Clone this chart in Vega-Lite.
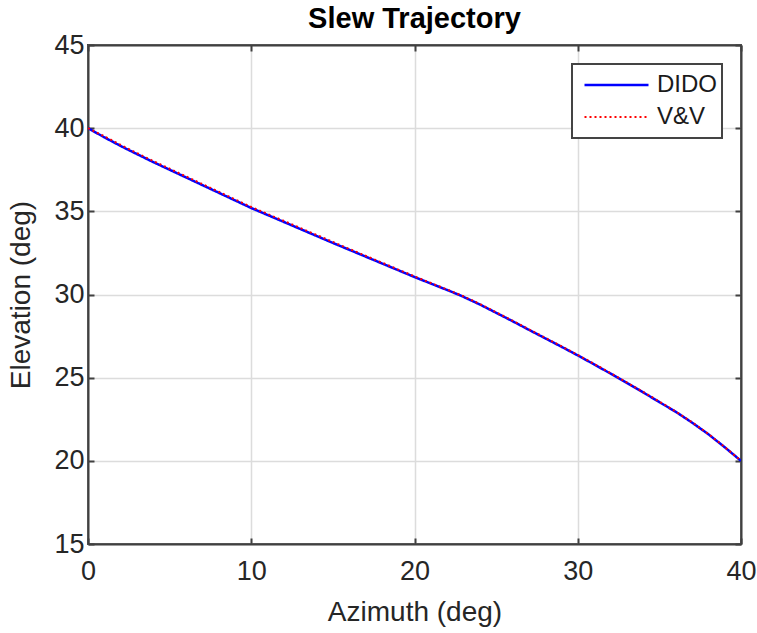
{
  "$schema": "https://vega.github.io/schema/vega-lite/v6.json",
  "width": 653,
  "height": 499,
  "autosize": {"type": "none"},
  "padding": {"left": 88, "top": 45, "right": 16, "bottom": 89},
  "background": "white",
  "title": {
    "text": "Slew Trajectory",
    "font": "Liberation Sans",
    "fontSize": 29,
    "fontWeight": "bold",
    "color": "black",
    "offset": -3
  },
  "data": {
    "values": [
      {"az": 0, "el": 40.0, "series": "DIDO"},
      {"az": 1, "el": 39.45, "series": "DIDO"},
      {"az": 2, "el": 38.93, "series": "DIDO"},
      {"az": 3, "el": 38.44, "series": "DIDO"},
      {"az": 4, "el": 37.96, "series": "DIDO"},
      {"az": 5, "el": 37.5, "series": "DIDO"},
      {"az": 6, "el": 37.04, "series": "DIDO"},
      {"az": 7, "el": 36.58, "series": "DIDO"},
      {"az": 8, "el": 36.12, "series": "DIDO"},
      {"az": 9, "el": 35.66, "series": "DIDO"},
      {"az": 10, "el": 35.2, "series": "DIDO"},
      {"az": 11, "el": 34.78, "series": "DIDO"},
      {"az": 12, "el": 34.36, "series": "DIDO"},
      {"az": 13, "el": 33.94, "series": "DIDO"},
      {"az": 14, "el": 33.52, "series": "DIDO"},
      {"az": 15, "el": 33.1, "series": "DIDO"},
      {"az": 16, "el": 32.69, "series": "DIDO"},
      {"az": 17, "el": 32.28, "series": "DIDO"},
      {"az": 18, "el": 31.87, "series": "DIDO"},
      {"az": 19, "el": 31.46, "series": "DIDO"},
      {"az": 20, "el": 31.05, "series": "DIDO"},
      {"az": 21, "el": 30.66, "series": "DIDO"},
      {"az": 22, "el": 30.27, "series": "DIDO"},
      {"az": 22.8, "el": 29.95, "series": "DIDO"},
      {"az": 24, "el": 29.4, "series": "DIDO"},
      {"az": 25, "el": 28.9, "series": "DIDO"},
      {"az": 26, "el": 28.4, "series": "DIDO"},
      {"az": 27, "el": 27.88, "series": "DIDO"},
      {"az": 28, "el": 27.37, "series": "DIDO"},
      {"az": 29, "el": 26.86, "series": "DIDO"},
      {"az": 30, "el": 26.34, "series": "DIDO"},
      {"az": 31, "el": 25.8, "series": "DIDO"},
      {"az": 32, "el": 25.25, "series": "DIDO"},
      {"az": 33, "el": 24.69, "series": "DIDO"},
      {"az": 34, "el": 24.12, "series": "DIDO"},
      {"az": 35, "el": 23.53, "series": "DIDO"},
      {"az": 36, "el": 22.95, "series": "DIDO"},
      {"az": 37, "el": 22.3, "series": "DIDO"},
      {"az": 38, "el": 21.6, "series": "DIDO"},
      {"az": 39, "el": 20.82, "series": "DIDO"},
      {"az": 40, "el": 20.0, "series": "DIDO"},
      {"az": 0, "el": 40.0, "series": "V&V"},
      {"az": 1, "el": 39.51, "series": "V&V"},
      {"az": 2, "el": 38.99, "series": "V&V"},
      {"az": 3, "el": 38.5, "series": "V&V"},
      {"az": 4, "el": 38.02, "series": "V&V"},
      {"az": 5, "el": 37.56, "series": "V&V"},
      {"az": 6, "el": 37.1, "series": "V&V"},
      {"az": 7, "el": 36.64, "series": "V&V"},
      {"az": 8, "el": 36.18, "series": "V&V"},
      {"az": 9, "el": 35.72, "series": "V&V"},
      {"az": 10, "el": 35.26, "series": "V&V"},
      {"az": 11, "el": 34.84, "series": "V&V"},
      {"az": 12, "el": 34.42, "series": "V&V"},
      {"az": 13, "el": 34.0, "series": "V&V"},
      {"az": 14, "el": 33.58, "series": "V&V"},
      {"az": 15, "el": 33.16, "series": "V&V"},
      {"az": 16, "el": 32.74, "series": "V&V"},
      {"az": 17, "el": 32.33, "series": "V&V"},
      {"az": 18, "el": 31.92, "series": "V&V"},
      {"az": 19, "el": 31.5, "series": "V&V"},
      {"az": 20, "el": 31.09, "series": "V&V"},
      {"az": 21, "el": 30.69, "series": "V&V"},
      {"az": 22, "el": 30.3, "series": "V&V"},
      {"az": 22.8, "el": 29.98, "series": "V&V"},
      {"az": 24, "el": 29.43, "series": "V&V"},
      {"az": 25, "el": 28.93, "series": "V&V"},
      {"az": 26, "el": 28.43, "series": "V&V"},
      {"az": 27, "el": 27.91, "series": "V&V"},
      {"az": 28, "el": 27.4, "series": "V&V"},
      {"az": 29, "el": 26.89, "series": "V&V"},
      {"az": 30, "el": 26.37, "series": "V&V"},
      {"az": 31, "el": 25.83, "series": "V&V"},
      {"az": 32, "el": 25.28, "series": "V&V"},
      {"az": 33, "el": 24.72, "series": "V&V"},
      {"az": 34, "el": 24.15, "series": "V&V"},
      {"az": 35, "el": 23.56, "series": "V&V"},
      {"az": 36, "el": 22.97, "series": "V&V"},
      {"az": 37, "el": 22.32, "series": "V&V"},
      {"az": 38, "el": 21.62, "series": "V&V"},
      {"az": 39, "el": 20.83, "series": "V&V"},
      {"az": 40, "el": 20.0, "series": "V&V"}
    ]
  },
  "layer": [
    {
      "mark": {"type": "line", "clip": true},
      "encoding": {
        "x": {
          "field": "az",
          "type": "quantitative",
          "scale": {"domain": [0, 40], "nice": false, "zero": false},
          "axis": {
            "title": "Azimuth (deg)",
            "values": [0, 10, 20, 30, 40],
            "orient": "bottom",
            "grid": true,
            "titlePadding": 14
          }
        },
        "y": {
          "field": "el",
          "type": "quantitative",
          "scale": {"domain": [15, 45], "nice": false, "zero": false},
          "axis": {
            "title": "Elevation (deg)",
            "values": [15, 20, 25, 30, 35, 40, 45],
            "orient": "left",
            "grid": true,
            "labelPadding": 10,
            "titlePadding": 18
          }
        },
        "color": {
          "field": "series",
          "type": "nominal",
          "scale": {"domain": ["DIDO", "V&V"], "range": ["#0000ff", "#ff0000"]},
          "legend": {"title": null}
        },
        "strokeDash": {
          "field": "series",
          "type": "nominal",
          "scale": {"domain": ["DIDO", "V&V"], "range": [[1, 0], [2, 3]]},
          "legend": {"title": null}
        },
        "strokeWidth": {
          "field": "series",
          "type": "nominal",
          "scale": {"domain": ["DIDO", "V&V"], "range": [2.5, 2]},
          "legend": {"title": null}
        }
      }
    },
    {
      "mark": {"type": "line", "opacity": 0},
      "encoding": {
        "x": {
          "field": "az",
          "type": "quantitative",
          "axis": {"orient": "top", "title": null, "labels": false, "grid": false, "values": [0, 10, 20, 30, 40]}
        },
        "y": {
          "field": "el",
          "type": "quantitative",
          "axis": {"orient": "right", "title": null, "labels": false, "grid": false, "values": [15, 20, 25, 30, 35, 40, 45]}
        },
        "detail": {"field": "series"}
      }
    }
  ],
  "resolve": {"axis": {"x": "independent", "y": "independent"}},
  "config": {
    "view": {"stroke": "#404040", "strokeWidth": 2},
    "axis": {
      "labelFont": "Liberation Sans",
      "labelFontSize": 27,
      "labelColor": "#262626",
      "labelFlush": false,
      "titleFont": "Liberation Sans",
      "titleFontSize": 28,
      "titleFontWeight": "normal",
      "titleColor": "#262626",
      "gridColor": "#dcdcdc",
      "gridWidth": 1.5,
      "domainColor": "#404040",
      "domainWidth": 2,
      "tickColor": "#404040",
      "tickWidth": 2,
      "tickSize": -6,
      "labelPadding": 20
    },
    "legend": {
      "orient": "top-right",
      "offset": 19,
      "symbolType": "stroke",
      "symbolSize": 4096,
      "symbolStrokeWidth": 2.5,
      "symbolOffset": 6,
      "clipHeight": 32,
      "rowPadding": 0,
      "labelFont": "Liberation Sans",
      "labelFontSize": 24,
      "labelColor": "#1a1a1a",
      "labelOffset": 7,
      "padding": 5,
      "fillColor": "white",
      "strokeColor": "#444444",
      "strokeWidth": 2
    }
  }
}
